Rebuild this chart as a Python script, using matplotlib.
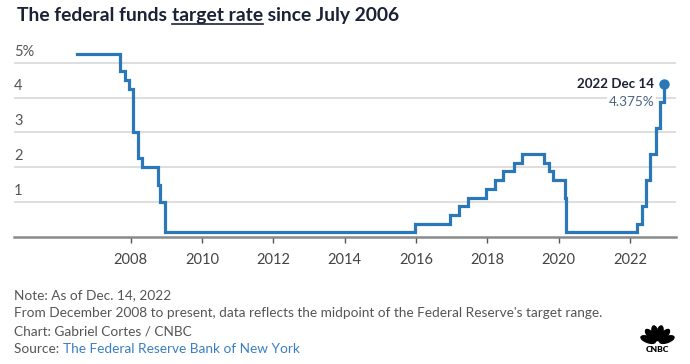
import numpy as np
import pandas as pd
import matplotlib.pyplot as plt
import matplotlib.dates as mdates
from matplotlib.patches import Ellipse

# Fed funds target rate (midpoint of range from Dec 2008)
dates = ["2006-07-01", "2007-09-18", "2007-10-31", "2007-12-11", "2008-01-22",
         "2008-01-30", "2008-03-18", "2008-04-30", "2008-10-08", "2008-10-29",
         "2008-12-16", "2015-12-16", "2016-12-14", "2017-03-15", "2017-06-14",
         "2017-12-13", "2018-03-21", "2018-06-13", "2018-09-26", "2018-12-19",
         "2019-07-31", "2019-09-18", "2019-10-30", "2020-03-03", "2020-03-15",
         "2022-03-16", "2022-05-04", "2022-06-15", "2022-07-27", "2022-09-21",
         "2022-11-02", "2022-12-14"]
rates = [5.25, 4.75, 4.50, 4.25, 3.50,
         3.00, 2.25, 2.00, 1.50, 1.00,
         0.125, 0.375, 0.625, 0.875, 1.125,
         1.375, 1.625, 1.875, 2.125, 2.375,
         2.125, 1.875, 1.625, 1.125, 0.125,
         0.375, 0.875, 1.625, 2.375, 3.125,
         3.875, 4.375]
y_ticks = [1, 2, 3, 4, 5]
y_labels = ["1", "2", "3", "4", "5%"]
x_years = [2008, 2010, 2012, 2014, 2016, 2018, 2020, 2022]

dates = pd.to_datetime(dates)

plt.rcParams['font.family'] = ['Lato', 'DejaVu Sans']

LINE = "#2a78b8"
GRAY = "#555555"
NAVY = "#1b2236"

fig = plt.figure(figsize=(6.9, 3.64), dpi=100)
ax = fig.add_axes([14 / 690, 127.3 / 364, 662 / 690, 187.9 / 364])

ax.step(dates, rates, where="post", color=LINE, lw=2.3, solid_joinstyle="miter", zorder=3)
ax.plot(dates[-1], rates[-1], "o", color=LINE, ms=6.5, zorder=4)

ax.set_ylim(0, 5.4)
ax.set_xlim(pd.Timestamp("2004-09-24"), pd.Timestamp("2023-04-15"))

# grid
for v in y_ticks:
    ax.axhline(v, color="#dedede", lw=1.4, zorder=1)
for v, lab in zip(y_ticks, y_labels):
    ax.annotate(lab, xy=(0, v), xycoords=("axes fraction", "data"),
                xytext=(0, 3), textcoords="offset points",
                ha="left", va="bottom", fontsize=10.5, color=GRAY)

ax.set_yticks([])
ax.set_xticks([pd.Timestamp(f"{y}-01-01") for y in x_years])
ax.xaxis.set_major_formatter(mdates.DateFormatter("%Y"))
ax.tick_params(axis="x", length=4, width=1, color="#555555", pad=8,
               labelsize=10.5, labelcolor="#444444")
for s in ["top", "right", "left"]:
    ax.spines[s].set_visible(False)
ax.spines["bottom"].set_color("#8a8a8a")
ax.spines["bottom"].set_linewidth(1.8)

# end annotation
ax.annotate("2022 Dec 14", xy=(dates[-1], rates[-1]), xytext=(-7, 0),
            textcoords="offset points", ha="right", va="center",
            fontsize=9.6, fontweight="bold", color=NAVY)
ax.annotate("4.375%", xy=(dates[-1], rates[-1]), xytext=(-7, -12.5),
            textcoords="offset points", ha="right", va="center",
            fontsize=9.8, color="#4d6480",
            bbox=dict(boxstyle="square,pad=0.1", fc="white", ec="none"), zorder=5)

# title with underlined part
fig.canvas.draw()
r = fig.canvas.get_renderer()
parts = ["The federal funds ", "target rate", " since July 2006"]
x0 = 17 / 690
for i, p in enumerate(parts):
    t = fig.text(x0, 1 - 21 / 364, p, fontsize=13.9, fontweight="bold",
                 color=NAVY, ha="left", va="baseline")
    bb = t.get_window_extent(renderer=r)
    w = bb.width / 690
    if i == 1:
        fig.add_artist(plt.Line2D([x0, x0 + w], [1 - 24 / 364] * 2,
                                  color=NAVY, lw=1.2))
    x0 += w

# footer
fs = 9.8
fig.text(14 / 690, 1 - 295 / 364, "Note: As of Dec. 14, 2022", fontsize=fs, color=GRAY, va="center")
fig.text(14 / 690, 1 - 313 / 364,
         "From December 2008 to present, data reflects the midpoint of the Federal Reserve's target range.",
         fontsize=fs, color=GRAY, va="center")
fig.text(14 / 690, 1 - 331.5 / 364, "Chart: Gabriel Cortes / CNBC", fontsize=fs, color=GRAY, va="center")
src = fig.text(14 / 690, 1 - 349 / 364, "Source: ", fontsize=fs, color=GRAY, va="center")
sw = src.get_window_extent(renderer=r).width / 690
fig.text(14 / 690 + sw, 1 - 349 / 364, "The Federal Reserve Bank of New York",
         fontsize=fs, color="#3a7fc1", va="center")

# CNBC peacock mark (pixel positions converted to inches)
cx, cy = 657.5, 343
for ang in [20, 49, 77, 103, 131, 160]:
    a = np.radians(ang)
    ex = cx + 10 * np.cos(a)
    ey = cy - 10 * np.sin(a)
    fig.add_artist(Ellipse((ex / 100, (364 - ey) / 100), 0.06, 0.15,
                           angle=ang - 90, transform=fig.dpi_scale_trans,
                           color="black"))
fig.text(cx / 690, 1 - 349 / 364, "CNBC", fontsize=6, fontweight="heavy",
         color="black", ha="center", va="center")

plt.savefig("out.png", dpi=100)
plt.close()
